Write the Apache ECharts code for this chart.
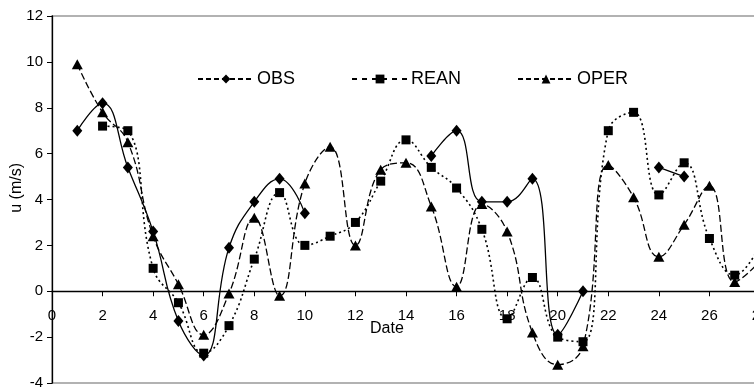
<!DOCTYPE html>
<html>
<head>
<meta charset="utf-8">
<script src="https://cdn.jsdelivr.net/npm/echarts@6/dist/echarts.min.js"></script>
<style>html,body{margin:0;padding:0;background:#fff;}#c{width:754px;height:390px;}</style>
</head>
<body>
<div id="c"></div>
<script>
var dates = [1,2,3,4,5,6,7,8,9,10,11,12,13,14,15,16,17,18,19,20,21,22,23,24,25,26,27,28];
var obs  = [7.0, 8.2, 5.4, 2.6, -1.3, -2.8, 1.9, 3.9, 4.9, 3.4, null, null, null, null, 5.9, 7.0, 3.9, 3.9, 4.9, -1.9, 0.0, null, null, 5.4, 5.0, null, null, null];
var rean = [null, 7.2, 7.0, 1.0, -0.5, -2.7, -1.5, 1.4, 4.3, 2.0, 2.4, 3.0, 4.8, 6.6, 5.4, 4.5, 2.7, -1.2, 0.6, -2.0, -2.2, 7.0, 7.8, 4.2, 5.6, 2.3, 0.7, 2.0];
var oper = [9.9, 7.8, 6.5, 2.4, 0.3, -1.9, -0.1, 3.2, -0.2, 4.7, 6.3, 2.0, 5.3, 5.6, 3.7, 0.2, 3.8, 2.6, -1.8, -3.2, -2.4, 5.5, 4.1, 1.5, 2.9, 4.6, 0.4, 1.3];
var seriesNames = ['OBS', 'REAN', 'OPER'];
var xTicks = {min: 0, max: 28, step: 2};
var yTicks = {min: -4, max: 12, step: 2};

function pairs(vals) {
  return dates.map(function (d, i) { return [d, vals[i]]; });
}

var H = 390, gridTop = 16, gridBottom = 7;
var plotH = H - gridTop - gridBottom;
// distance of the zero line above the bottom edge of the plot
var zeroOffset = (0 - yTicks.min) / (yTicks.max - yTicks.min) * plotH;

var chart = echarts.init(document.getElementById('c'), null, {renderer: 'canvas'});
var font = 'Liberation Sans, Arial, sans-serif';
var legendText = {fontFamily: font, fontSize: 18, color: '#000', padding: [0, 0, 0, -2]};
chart.setOption({
  animation: false,
  backgroundColor: '#fff',
  textStyle: {fontFamily: font, color: '#000'},
  grid: {left: 52, right: -6, top: gridTop, bottom: gridBottom, outerBoundsMode: 'none', containLabel: false,
         show: true, borderColor: '#999', borderWidth: 1.5, backgroundColor: 'transparent'},
  legend: {
    left: 192, top: 65, itemWidth: 56, itemHeight: 11, itemGap: 56, textStyle: legendText,
    data: [
      {name: seriesNames[0], lineStyle: {type: [5, 3]}},
      {name: seriesNames[1], lineStyle: {type: [5, 5]}},
      {name: seriesNames[2], lineStyle: {type: [5, 3]}}
    ]
  },
  xAxis: {
    type: 'value', min: xTicks.min, max: xTicks.max, interval: xTicks.step,
    offset: -zeroOffset,
    axisLine: {onZero: false, lineStyle: {color: '#000', width: 1.3}},
    axisTick: {show: true, length: 5, lineStyle: {color: '#000'}},
    axisLabel: {fontSize: 15, color: '#000', margin: 17, fontFamily: font},
    splitLine: {show: false}
  },
  yAxis: {
    type: 'value', min: yTicks.min, max: yTicks.max, interval: yTicks.step,
    axisLine: {show: true, onZero: false, lineStyle: {color: '#000', width: 1.3}},
    axisTick: {show: true, length: 5, lineStyle: {color: '#000'}},
    axisLabel: {fontSize: 15, color: '#000', margin: 9, fontFamily: font},
    splitLine: {show: false}
  },
  graphic: [
    {type: 'text', left: 9, top: 163, rotation: Math.PI / 2,
     style: {text: 'u (m/s)', fontSize: 16, fontFamily: font, fill: '#000'}},
    {type: 'text', left: 370, top: 321,
     style: {text: 'Date', fontSize: 16, fontFamily: font, fill: '#000'}}
  ],
  series: [
    {name: seriesNames[0], type: 'line', data: pairs(obs), smooth: 0.45, connectNulls: false,
     symbol: 'diamond', symbolSize: [10, 12], showAllSymbol: true,
     itemStyle: {color: '#000'}, lineStyle: {color: '#000', width: 1.3, type: 'solid'}},
    {name: seriesNames[1], type: 'line', data: pairs(rean), smooth: 0.45, connectNulls: false,
     symbol: 'rect', symbolSize: 9, showAllSymbol: true,
     itemStyle: {color: '#000'}, lineStyle: {color: '#000', width: 1.6, type: [2, 3]}},
    {name: seriesNames[2], type: 'line', data: pairs(oper), smooth: 0.45, connectNulls: false,
     symbol: 'triangle', symbolSize: [11, 10], showAllSymbol: true,
     itemStyle: {color: '#000'}, lineStyle: {color: '#000', width: 1.3, type: [7, 3]}}
  ]
});
</script>
</body>
</html>
